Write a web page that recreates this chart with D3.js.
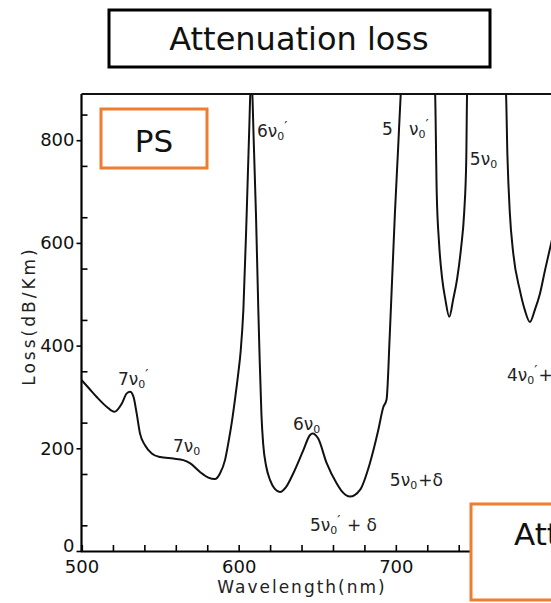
<!DOCTYPE html>
<html>
<head>
<meta charset="utf-8">
<script src="https://cdn.jsdelivr.net/npm/d3@7"></script>
<style>
  html, body { margin: 0; padding: 0; background: #fff; }
  svg { display: block; font-family: "DejaVu Sans", Verdana, sans-serif; }
</style>
</head>
<body>
<div id="chart"></div>
<script>
// wavelength (nm) and loss (dB/Km)
const wavelength = [500, 505, 509.7, 516, 520.9, 525.6, 528.8, 530.9, 533, 535.1, 537.2, 540.4, 544.7, 550,
  558.4, 564.8, 569, 575.4, 580.7, 584.9, 588.1, 591.3, 593.4, 595.5, 597.6, 599.7, 601.3, 603, 605.1, 606.7,
  608, 609.7, 611, 612.5, 613.3, 614.5, 615.6, 617.5, 620, 623, 626.3, 630, 634.7, 641.1, 645.4, 647.1, 650.6,
  656, 662.3, 666, 670.8, 677.2, 683.5, 688.8, 692, 694.1, 696.2, 699.4, 701.5, 703.1, 713, 724.9, 726, 727.5,
  729.5, 731.5, 734, 736.5, 739, 741.5, 743.5, 744.8, 745.4, 757.5, 770, 771, 772.5, 774.7, 778.9, 782, 785.3,
  788.5, 791.6, 795, 800];
const loss = [333, 316, 300, 281, 271, 287, 307, 310, 301, 268, 229, 206, 190, 183,
  180, 177, 171, 154, 143, 140, 151, 177, 210, 248, 294, 345, 390, 470, 657, 819,
  930, 787, 657, 470, 380, 265, 208, 165, 138, 121, 115, 124, 151, 196, 226, 229, 219,
  171, 132, 115, 106, 119, 171, 235, 280, 295, 425, 657, 787, 889, 1150, 900, 700, 600,
  530, 490, 456, 490, 530, 590, 660, 760, 900, 1150, 900, 770, 660, 580, 508, 470, 446,
  470, 500, 548, 615];

const xTickLabels = [500, 600, 700];
const yTickLabels = [0, 200, 400, 600, 800];

// peak labels: coefficient, primed or not, trailing text, anchor (nm, loss)
const peakLabels = [
  { c: "7", prime: true,  tail: "",     nm: 523.2, v: 323 },
  { c: "7", prime: false, tail: "",     nm: 558.2, v: 193 },
  { c: "6", prime: true,  tail: "",     nm: 611.6, v: 806 },
  { c: "6", prime: false, tail: "",     nm: 634.5, v: 236 },
  { c: "5", prime: true,  tail: " + δ", nm: 645.4, v: 39 },
  { c: "5", prime: false, tail: "+δ",   nm: 696.2, v: 127 },
  { c: "5   ", prime: true, tail: "",   nm: 691.2, v: 810 },
  { c: "5", prime: false, tail: "",     nm: 747.1, v: 752 },
  { c: "4", prime: true,  tail: "+δ",   nm: 770.7, v: 331 }
];

const width = 551;
const height = 603;
const marginTop = 94;
const marginLeft = 81.5;
const plotBottom = 551;

const data = wavelength.map((w, i) => ({ w, v: loss[i] }));

const x = d3.scaleLinear().domain([500, 800]).range([marginLeft, 553]);
const y = d3.scaleLinear().domain([0, 890]).range([plotBottom, marginTop]);

const svg = d3.select("#chart").append("svg")
    .attr("width", width)
    .attr("height", height);

svg.append("defs").append("clipPath").attr("id", "plot-clip")
  .append("rect")
    .attr("x", marginLeft)
    .attr("y", marginTop)
    .attr("width", width - marginLeft)
    .attr("height", plotBottom - marginTop);

// title box
svg.append("rect")
    .attr("x", 109).attr("y", 10)
    .attr("width", 381).attr("height", 57)
    .attr("fill", "none").attr("stroke", "#000").attr("stroke-width", 3);
svg.append("text")
    .attr("x", 299).attr("y", 50)
    .attr("text-anchor", "middle")
    .attr("font-size", 32)
    .attr("fill", "#111")
    .text("Attenuation loss");

// x axis: minor ticks inward every 20 nm
svg.append("g")
    .attr("transform", `translate(0,${plotBottom})`)
    .call(d3.axisBottom(x).tickValues(d3.range(500, 801, 20)).tickSize(-6).tickFormat(""))
    .call(g => g.select(".domain").attr("stroke-width", 2.2))
    .call(g => g.selectAll(".tick line").attr("stroke-width", 1.6));

svg.append("g")
    .attr("transform", `translate(0,${plotBottom})`)
    .call(d3.axisBottom(x).tickValues(xTickLabels).tickSize(0).tickPadding(9))
    .call(g => g.select(".domain").remove())
    .call(g => g.selectAll("text").attr("font-size", 18).attr("font-family", "DejaVu Sans").attr("fill", "#111"));

// y axis: minor inward every 50, major outward
svg.append("g")
    .attr("transform", `translate(${marginLeft},0)`)
    .call(d3.axisLeft(y).tickValues(d3.range(50, 851, 100)).tickSize(-6).tickFormat(""))
    .call(g => g.select(".domain").remove())
    .call(g => g.selectAll(".tick line").attr("stroke-width", 1.6));

svg.append("g")
    .attr("transform", `translate(${marginLeft},0)`)
    .call(d3.axisLeft(y).tickValues(yTickLabels).tickSize(5).tickPadding(2).tickSizeOuter(0))
    .call(g => g.select(".domain").attr("d", `M0,${plotBottom}V${marginTop}`).attr("stroke-width", 2.2))
    .call(g => g.selectAll(".tick line").attr("stroke-width", 1.6))
    .call(g => g.selectAll(".tick").filter(d => d === 0).select("text").attr("dy", "0.05em"))
    .call(g => g.selectAll("text").attr("font-size", 18).attr("font-family", "DejaVu Sans").attr("fill", "#111"));

// top frame line
svg.append("line")
    .attr("x1", marginLeft).attr("x2", width)
    .attr("y1", marginTop).attr("y2", marginTop)
    .attr("stroke", "#111").attr("stroke-width", 2.2);

// axis titles
svg.append("text")
    .attr("transform", `translate(35,316) rotate(-90)`)
    .attr("text-anchor", "middle")
    .attr("font-size", 17)
    .attr("letter-spacing", 3)
    .attr("fill", "#222")
    .text("Loss(dB/Km)");

svg.append("text")
    .attr("x", 302).attr("y", 593)
    .attr("text-anchor", "middle")
    .attr("font-size", 17)
    .attr("letter-spacing", 2)
    .attr("fill", "#222")
    .text("Wavelength(nm)");

// the curve
const line = d3.line()
    .x(d => x(d.w))
    .y(d => y(d.v))
    .curve(d3.curveMonotoneX);

svg.append("path")
    .datum(data)
    .attr("clip-path", "url(#plot-clip)")
    .attr("fill", "none")
    .attr("stroke", "#111")
    .attr("stroke-width", 2)
    .attr("d", line);

// peak labels: ν with subscript 0, optional raised prime, optional tail
peakLabels.forEach(p => {
    const t = svg.append("text")
        .attr("x", x(p.nm)).attr("y", y(p.v))
        .attr("font-size", 17)
        .attr("fill", "#222")
        .attr("xml:space", "preserve")
        .style("white-space", "pre");
    t.append("tspan").text(p.c + "ν");
    t.append("tspan").attr("font-size", 11).attr("dy", 3).text("0");
    let dy = 3;
    if (p.prime) {
        t.append("tspan").attr("font-size", 14).attr("dy", -9).text("′");
        dy -= 9;
    }
    if (p.tail) t.append("tspan").attr("dx", 1).attr("dy", -dy).text(p.tail);
});

// orange highlight boxes
svg.append("rect")
    .attr("x", 101).attr("y", 109)
    .attr("width", 106).attr("height", 59)
    .attr("fill", "none").attr("stroke", "#ED7D31").attr("stroke-width", 3);
svg.append("text")
    .attr("x", 154).attr("y", 152)
    .attr("text-anchor", "middle")
    .attr("font-size", 31)
    .attr("fill", "#111")
    .text("PS");

svg.append("rect")
    .attr("x", 471).attr("y", 504)
    .attr("width", 120).attr("height", 96)
    .attr("fill", "#fff").attr("stroke", "#ED7D31").attr("stroke-width", 3);
svg.append("text")
    .attr("x", 514).attr("y", 545)
    .attr("font-size", 31)
    .attr("fill", "#111")
    .text("Attenuation");
</script>
</body>
</html>
